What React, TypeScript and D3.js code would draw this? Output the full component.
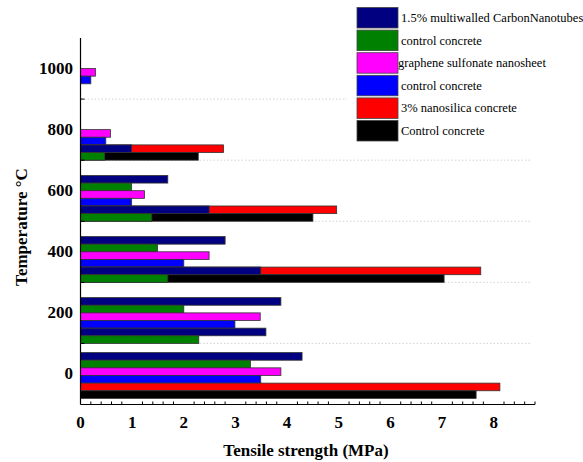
import React from "react";
import * as d3 from "d3";

const W = 583;
const H = 462;

// temperatures of the bar groups (first group is room temperature)
const temps = [20, 200, 400, 600, 800, 1000];
const yTicks = [0, 200, 400, 600, 800, 1000];
const gridValues = [100, 300, 500, 700, 900];
const xTicks = [0, 1, 2, 3, 4, 5, 6, 7, 8];

// tensile strength (MPa), null = no bar
const cnt = [4.29, 3.88, 2.8, 1.69, null, null];
const cntControl = [3.29, 2.0, 1.49, 0.99, null, null];
const gsn = [3.88, 3.48, 2.49, 1.24, 0.58, 0.29];
const gsnControl = [3.49, 2.99, 2.0, 0.99, 0.49, 0.2];
const nanosilica = [8.12, null, 7.75, 4.96, 2.77, null];
const nsControl = [7.66, null, 7.04, 4.5, 2.28, null];
const cnt2 = [null, 3.59, 3.49, 2.49, 0.99, null];
const cnt2Control = [null, 2.29, 1.69, 1.38, 0.47, null];

const series = [
  { name: "1.5% multiwalled CarbonNanotubes", color: "#000080", slot: 0, values: cnt, legend: true },
  { name: "control concrete", color: "#008000", slot: 1, values: cntControl, legend: true },
  { name: "graphene sulfonate nanosheet", color: "#ff00ff", slot: 2, values: gsn, legend: true },
  { name: "control concrete", color: "#0000ff", slot: 3, values: gsnControl, legend: true },
  { name: "3% nanosilica concrete", color: "#ff0000", slot: 4, values: nanosilica, legend: true },
  { name: "Control concrete", color: "#000000", slot: 5, values: nsControl, legend: true },
  { name: "cnt2", color: "#000080", slot: 4, values: cnt2, legend: false },
  { name: "cnt2 control", color: "#008000", slot: 5, values: cnt2Control, legend: false },
];

const font = "'Liberation Serif', 'Times New Roman', serif";

export default function App() {
  const x = d3.scaleLinear().domain([0, 8.8]).range([80.5, 535]);
  const y = d3.scaleLinear().domain([-100, 1100]).range([404.5, 38]);
  // slot offsets within a group, in temperature units
  const slot = d3.scaleBand<number>().domain([0, 1, 2, 3, 4, 5]).range([75, -75]);

  const minorX = d3.range(0, 8.81, 0.2).filter((v) => Math.abs(v - Math.round(v)) > 0.01);
  const legendItems = series.filter((s) => s.legend);

  return (
    <svg width={W} height={H} style={{ position: "absolute", left: 0, top: 0 }}>
      <rect width={W} height={H} fill="#fff" />
      {gridValues.map((g) => (
        <line key={g} x1={x(0)} x2={531} y1={y(g)} y2={y(g)} stroke="#c8c8c8" strokeWidth={0.8} strokeDasharray="1.5,2" />
      ))}
      {series.map((s) =>
        s.values.map((v, i) => {
          if (v == null) return null;
          const top = y(temps[i] + slot(s.slot)!);
          const bot = y(temps[i] + slot(s.slot)! - slot.bandwidth());
          return (
            <rect
              key={s.name + i}
              x={x(0)}
              y={top}
              width={x(v) - x(0)}
              height={bot - top}
              fill={s.color}
              stroke="#333"
              strokeWidth={0.8}
            />
          );
        })
      )}
      {/* axes */}
      <line x1={x(0)} x2={x(0)} y1={38} y2={404.5} stroke="#000" strokeWidth={1.2} />
      <line x1={x(0)} x2={535} y1={404.5} y2={404.5} stroke="#000" strokeWidth={1.2} />
      {gridValues.map((g) => (
        <line key={"yt" + g} x1={x(0)} x2={x(0) + 4} y1={y(g)} y2={y(g)} stroke="#000" strokeWidth={1} />
      ))}
      {minorX.map((v) => (
        <line key={"xt" + v} x1={x(v)} x2={x(v)} y1={404.5} y2={401.5} stroke="#000" strokeWidth={1} />
      ))}
      {yTicks.map((t) => (
        <text key={"yl" + t} x={73} y={y(t) + 5.5} textAnchor="end" fontFamily={font} fontWeight="bold" fontSize={17}>
          {t}
        </text>
      ))}
      {xTicks.map((t) => (
        <text key={"xl" + t} x={x(t)} y={427.5} textAnchor="middle" fontFamily={font} fontWeight="bold" fontSize={17}>
          {t}
        </text>
      ))}
      <text x={306} y={456} textAnchor="middle" fontFamily={font} fontWeight="bold" fontSize={17}>
        Tensile strength (MPa)
      </text>
      <text
        transform={`translate(27,227) rotate(-90)`}
        textAnchor="middle"
        fontFamily={font}
        fontWeight="bold"
        fontSize={17}
      >
        Temperature °C
      </text>
      {/* legend */}
      <rect x={347} y={0} width={W - 347} height={150} fill="#fff" />
      {legendItems.map((s, i) => (
        <g key={"lg" + i} transform={`translate(357, ${7.5 + i * 22.6})`}>
          <rect width={41} height={20.5} fill={s.color} stroke="#444" strokeWidth={0.8} />
          <text x={i === 2 ? 41 : 44} y={14.5} fontFamily={font} fontSize={12.5}>
            {s.name}
          </text>
        </g>
      ))}
    </svg>
  );
}
